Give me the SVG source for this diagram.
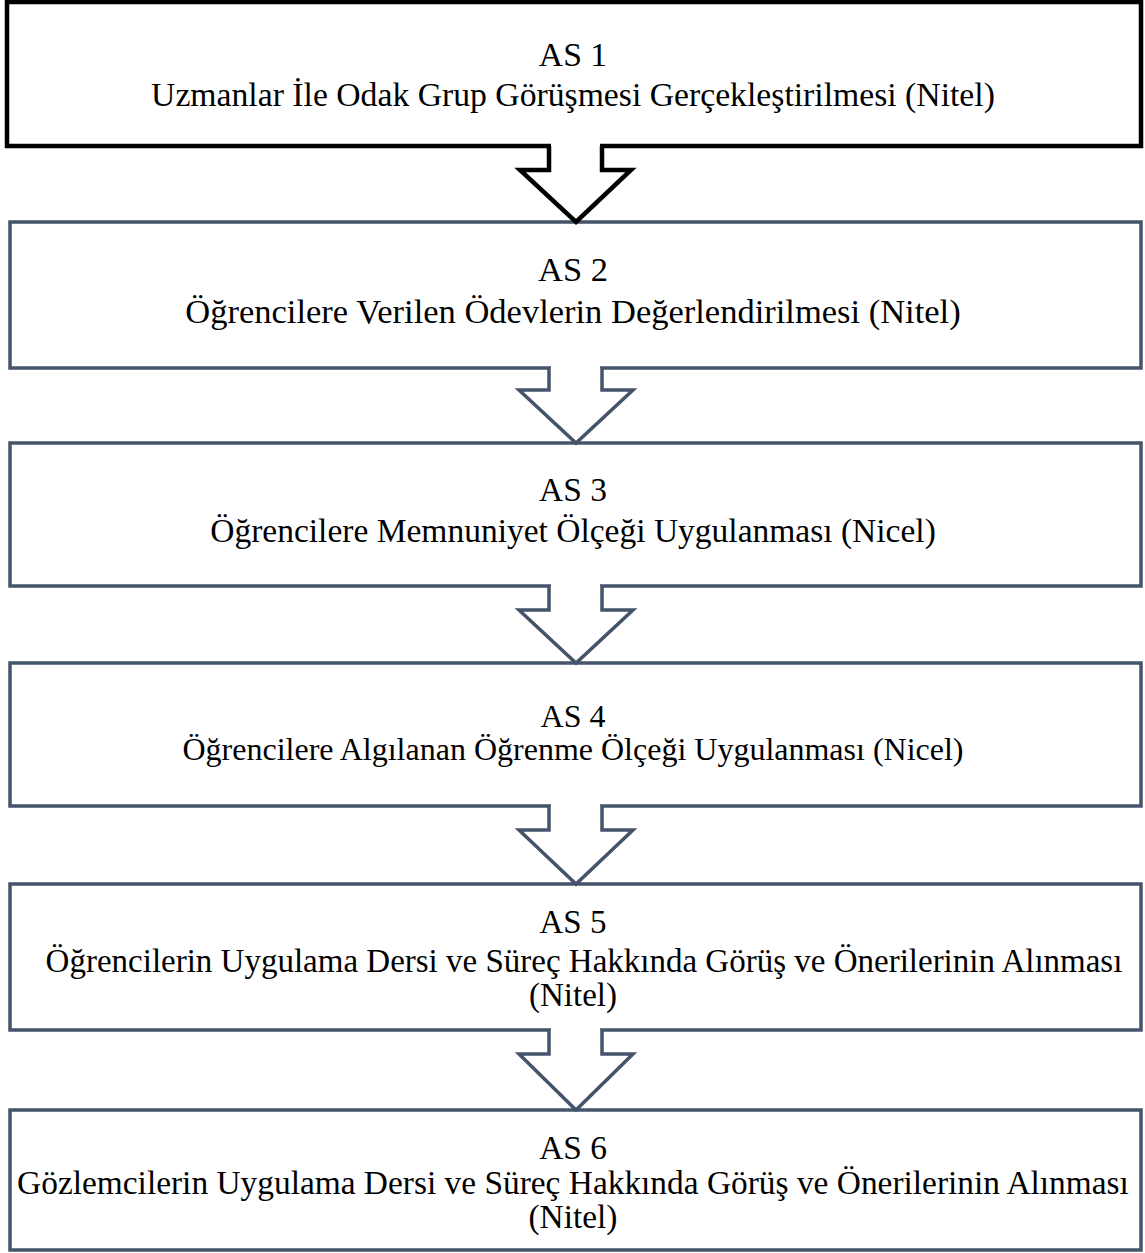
<svg xmlns="http://www.w3.org/2000/svg" width="1145" height="1253" viewBox="0 0 1145 1253">
<style>
.box{fill:#ffffff;stroke:#44546a;stroke-width:3.5}
.box1{fill:#ffffff;stroke:#000000;stroke-width:4.5}
.arr{fill:#ffffff;stroke:#44546a;stroke-width:3.5;stroke-linejoin:miter}
.arr1{fill:#ffffff;stroke:#000000;stroke-width:4.5;stroke-linejoin:miter}
.cover{fill:#ffffff;stroke:none}
text{font-family:"Liberation Serif","Times New Roman",serif;font-size:33px;fill:#000000;text-anchor:middle}
</style>
<rect width="1145" height="1253" fill="#ffffff"/>
<g id="n1"><rect class="box1" x="7" y="2" width="1134" height="144"/>
<text x="573" y="66" style="font-size:33.7px">AS 1</text><text x="573" y="106" style="font-size:33.7px">Uzmanlar İle Odak Grup Görüşmesi Gerçekleştirilmesi (Nitel)</text></g>
<g id="n2"><rect class="box" x="10" y="222" width="1131" height="146"/>
<text x="573" y="281" style="font-size:34.5px">AS 2</text><text x="573" y="323" style="font-size:34.5px">Öğrencilere Verilen Ödevlerin Değerlendirilmesi (Nitel)</text></g>
<g id="n3"><rect class="box" x="10" y="443" width="1131" height="143"/>
<text x="573" y="501" style="font-size:33.5px">AS 3</text><text x="573" y="542" style="font-size:33.5px">Öğrencilere Memnuniyet Ölçeği Uygulanması (Nicel)</text></g>
<g id="n4"><rect class="box" x="10" y="663" width="1131" height="143"/>
<text x="573" y="727" style="font-size:32px">AS 4</text><text x="573" y="760" style="font-size:32px">Öğrencilere Algılanan Öğrenme Ölçeği Uygulanması (Nicel)</text></g>
<g id="n5"><rect class="box" x="10" y="884" width="1131" height="146"/>
<text x="573" y="933">AS 5</text><text x="584" y="972">Öğrencilerin Uygulama Dersi ve Süreç Hakkında Görüş ve Önerilerinin Alınması</text><text x="573" y="1006">(Nitel)</text></g>
<g id="n6"><rect class="box" x="10" y="1110" width="1131" height="140"/>
<text x="573" y="1159" style="font-size:33.4px">AS 6</text><text x="573" y="1194" style="font-size:33.4px">Gözlemcilerin Uygulama Dersi ve Süreç Hakkında Görüş ve Önerilerinin Alınması</text><text x="573" y="1228" style="font-size:33.4px">(Nitel)</text></g>
<g id="connectors">
<rect class="cover" x="551" y="141" width="49" height="8"/>
<polyline class="arr1" points="549,146 549,170 520,170 576,222 631,170 602,170 602,146"/>
<rect class="cover" x="551" y="364" width="49" height="8"/>
<polyline class="arr" points="549,368 549,390 519,390 576,443 633,390 602,390 602,368"/>
<rect class="cover" x="551" y="582" width="49" height="8"/>
<polyline class="arr" points="549,586 549,610 519,610 576,663 633,610 602,610 602,586"/>
<rect class="cover" x="551" y="802" width="49" height="8"/>
<polyline class="arr" points="549,806 549,830 519,830 576,884 633,830 602,830 602,806"/>
<rect class="cover" x="551" y="1026" width="49" height="8"/>
<polyline class="arr" points="549,1030 549,1054 519,1054 576,1110 633,1054 602,1054 602,1030"/>
</g>
</svg>
